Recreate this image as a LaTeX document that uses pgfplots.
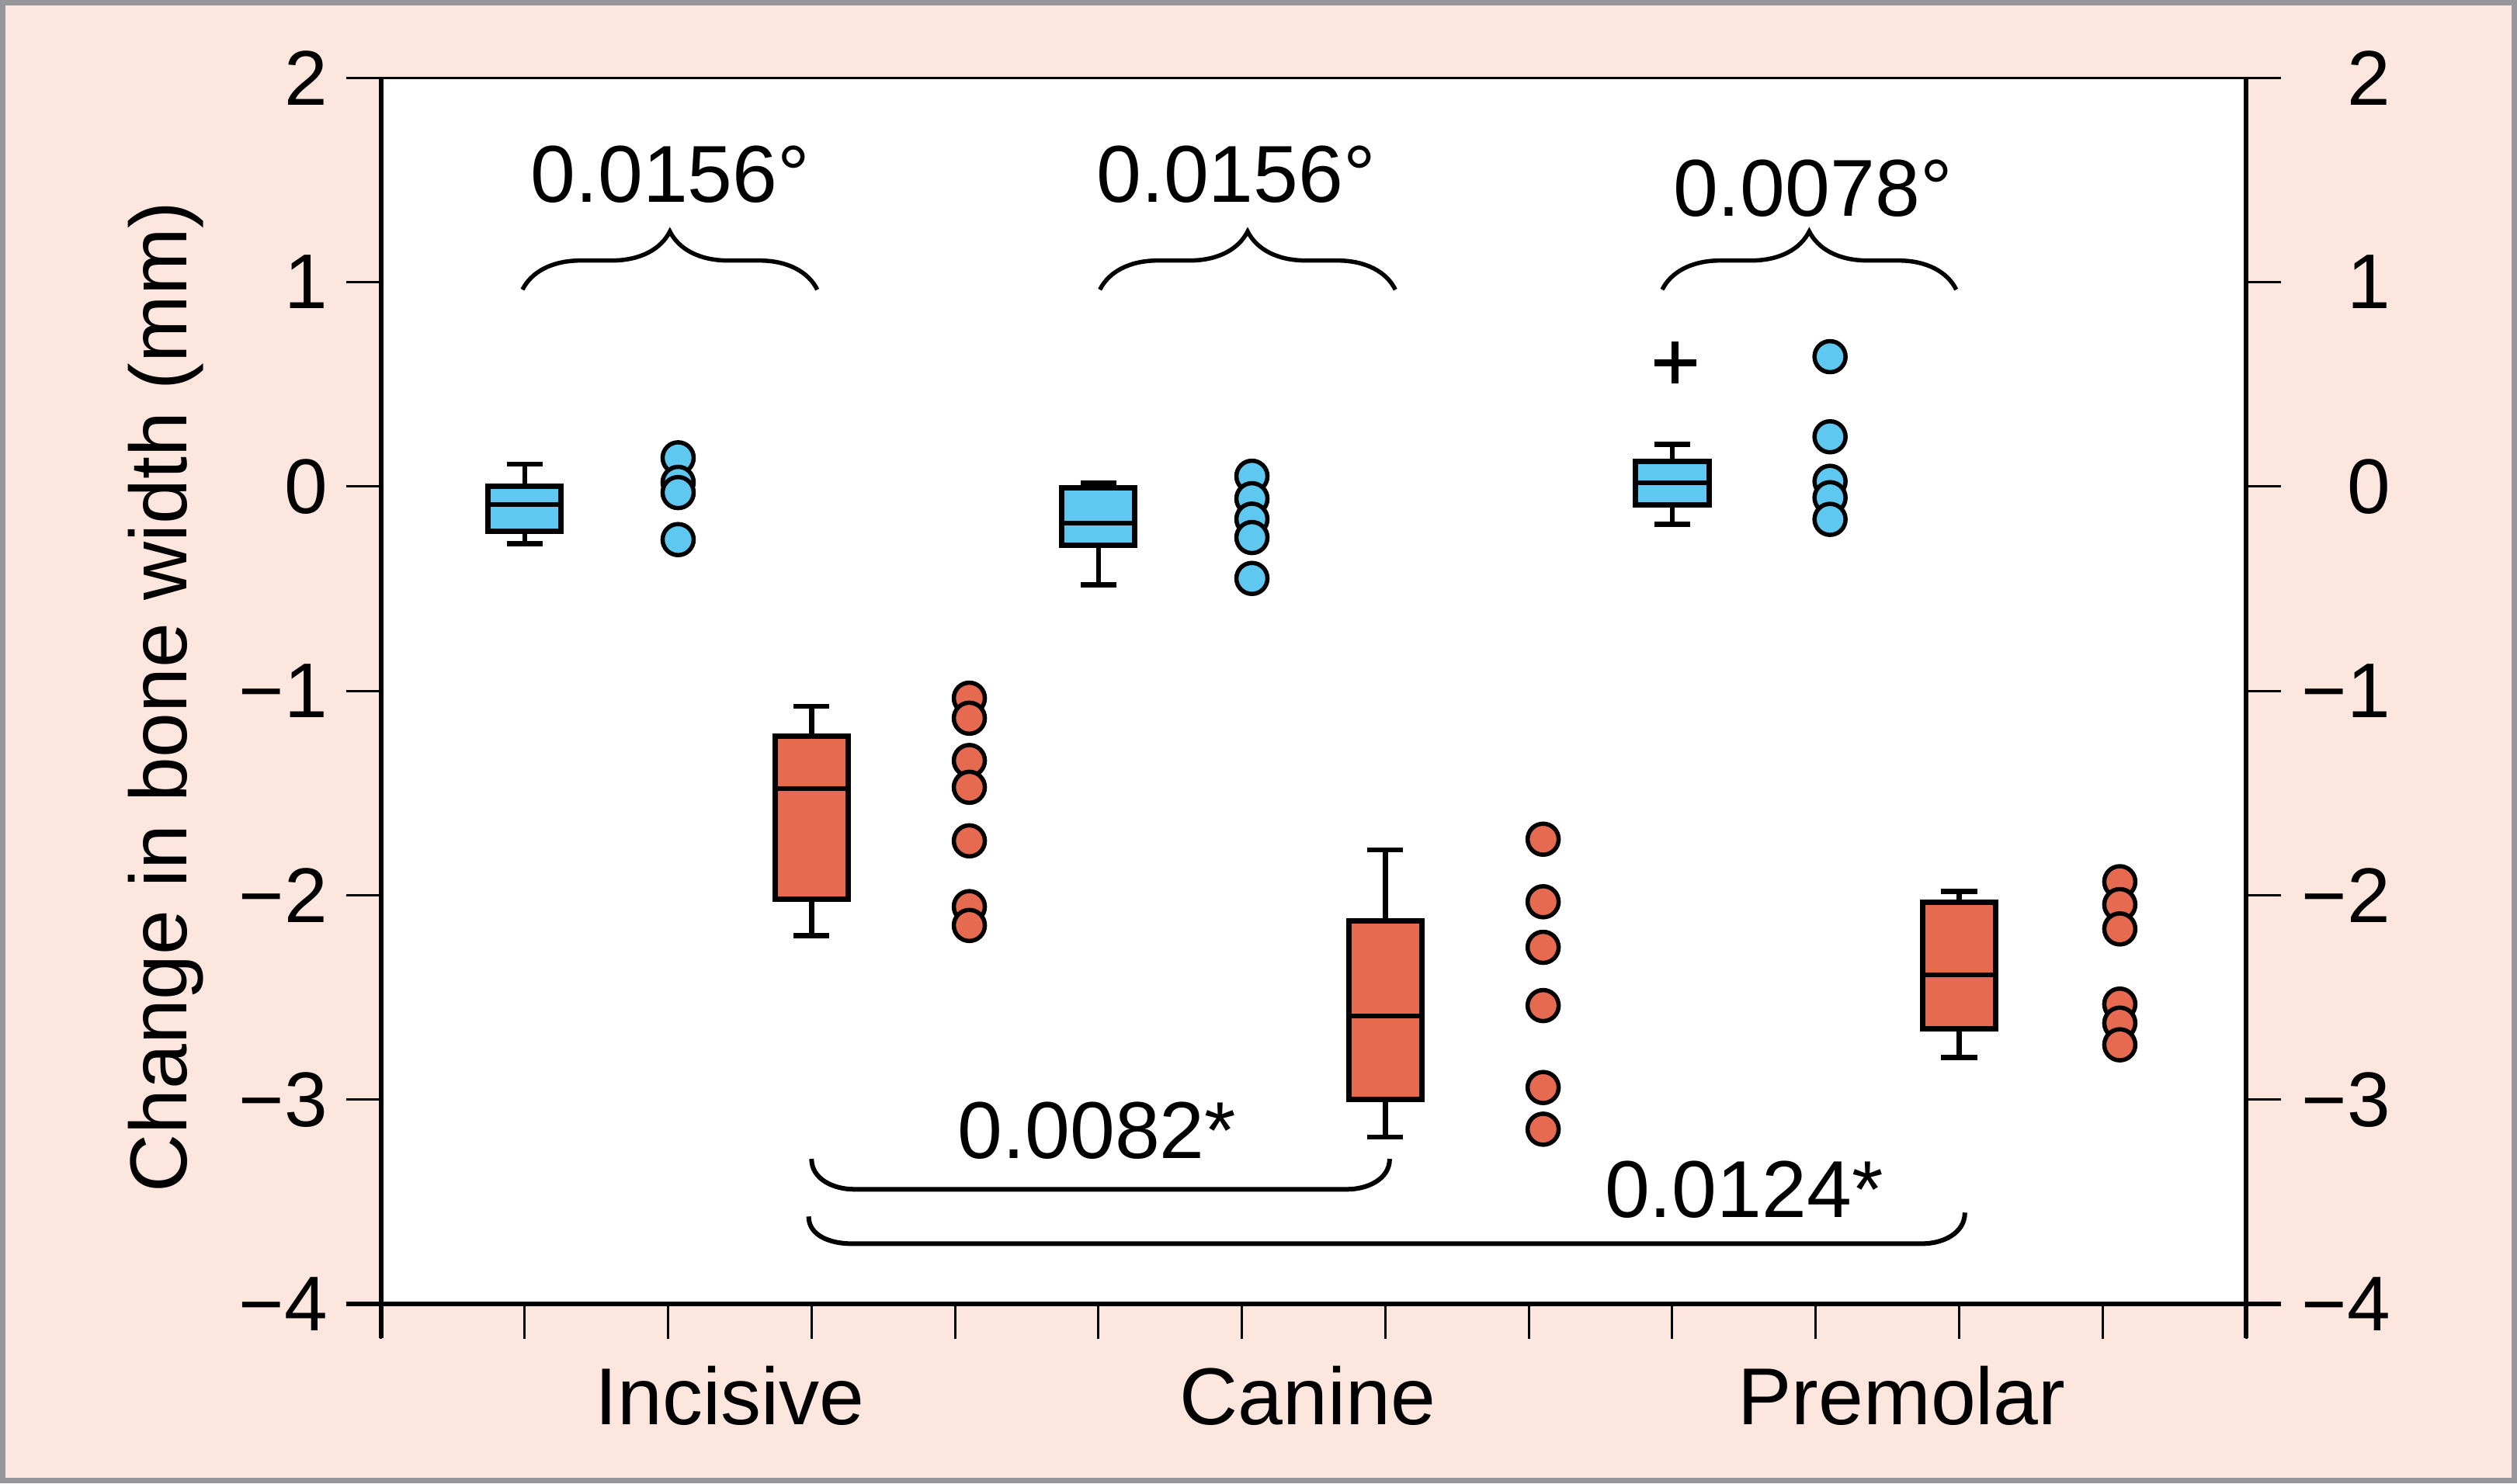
\documentclass[border=0pt]{standalone}
\usepackage{fontspec}
\setmainfont{Liberation Sans}
\usepackage{pgfplots}
\pgfplotsset{compat=1.18}
\usepgfplotslibrary{statistics}
\usetikzlibrary{decorations.pathreplacing}
\definecolor{cblue}{RGB}{94,200,240}
\definecolor{cred}{RGB}{230,106,80}
\definecolor{bgpink}{RGB}{252,230,222}
\definecolor{framegray}{RGB}{150,150,155}
\newcommand\annot{\fontsize{10.4pt}{12pt}\selectfont}
\newcommand\tickf{\fontsize{10pt}{12pt}\selectfont}
\begin{document}
\begin{tikzpicture}
\useasboundingbox (-49.1pt,-23.1pt) rectangle (275.1pt,168pt);
\fill[bgpink] (-49.1pt,-23.1pt) rectangle (275.1pt,168pt);
\draw[framegray, line width=0.7pt] (-48.75pt,-22.75pt) rectangle (274.75pt,167.65pt);
\begin{axis}[
  width=240.2pt, height=158pt, scale only axis,
  xmin=0, xmax=13, ymin=-4, ymax=2,
  xtick={0,1,2,3,4,5,6,7,8,9,10,11,12,13}, xticklabels={},
  xtick pos=left,
  ytick={-4,-3,-2,-1,0,1,2},
  yticklabels={},
  tick align=outside,
  major tick length=4.5pt,
  tick style={line width=0.3pt, black},
  axis line style={line width=0.3pt, black},
  axis background/.style={fill=white},
  boxplot/draw direction=y,
  boxplot/every box/.append style={line width=0.7pt},
  boxplot/every whisker/.append style={line width=0.65pt},
  boxplot/every median/.append style={line width=0.6pt},
  clip=false,
]
% ---- Incisive ----
\addplot[boxplot prepared={draw position=1, lower whisker=-0.28, lower quartile=-0.22, median=-0.09, upper quartile=0, upper whisker=0.11, box extend=0.51, whisker extend=0.25}, draw=black, fill=cblue, line width=0.65pt] coordinates {};
\addplot[only marks, mark=*, mark size=2.0pt, mark options={fill=cblue, draw=black, line width=0.55pt}] coordinates {(2.07,0.14) (2.07,0.02) (2.07,-0.03) (2.07,-0.26)};
\addplot[boxplot prepared={draw position=3, lower whisker=-2.197, lower quartile=-2.018, median=-1.479, upper quartile=-1.221, upper whisker=-1.076, box extend=0.51, whisker extend=0.25}, draw=black, fill=cred, line width=0.65pt] coordinates {};
\addplot[only marks, mark=*, mark size=2.0pt, mark options={fill=cred, draw=black, line width=0.55pt}] coordinates {(4.1,-1.036) (4.1,-1.134) (4.1,-1.341) (4.1,-1.472) (4.1,-1.734) (4.1,-2.056) (4.1,-2.148)};
% ---- Canine ----
\addplot[boxplot prepared={draw position=5, lower whisker=-0.482, lower quartile=-0.286, median=-0.18, upper quartile=-0.005, upper whisker=0.018, box extend=0.51, whisker extend=0.25}, draw=black, fill=cblue, line width=0.65pt] coordinates {};
\addplot[only marks, mark=*, mark size=2.0pt, mark options={fill=cblue, draw=black, line width=0.55pt}] coordinates {(6.07,0.05) (6.07,-0.06) (6.07,-0.16) (6.07,-0.25) (6.07,-0.45)};
\addplot[boxplot prepared={draw position=7, lower whisker=-3.184, lower quartile=-2.998, median=-2.592, upper quartile=-2.125, upper whisker=-1.779, box extend=0.51, whisker extend=0.25}, draw=black, fill=cred, line width=0.65pt] coordinates {};
\addplot[only marks, mark=*, mark size=2.0pt, mark options={fill=cred, draw=black, line width=0.55pt}] coordinates {(8.1,-1.726) (8.1,-2.032) (8.1,-2.255) (8.1,-2.540) (8.1,-2.941) (8.1,-3.145)};
% ---- Premolar ----
\addplot[boxplot prepared={draw position=9, lower whisker=-0.186, lower quartile=-0.089, median=0.019, upper quartile=0.124, upper whisker=0.206, box extend=0.51, whisker extend=0.25}, draw=black, fill=cblue, line width=0.65pt] coordinates {};
\addplot[only marks, mark=+, mark size=2.7pt, mark options={draw=black, line width=0.9pt}] coordinates {(9.02,0.606)};
\addplot[only marks, mark=*, mark size=2.0pt, mark options={fill=cblue, draw=black, line width=0.55pt}] coordinates {(10.1,0.635) (10.1,0.243) (10.1,0.025) (10.1,-0.055) (10.1,-0.161)};
\addplot[boxplot prepared={draw position=11, lower whisker=-2.794, lower quartile=-2.652, median=-2.389, upper quartile=-2.035, upper whisker=-1.981, box extend=0.51, whisker extend=0.25}, draw=black, fill=cred, line width=0.65pt] coordinates {};
\addplot[only marks, mark=*, mark size=2.0pt, mark options={fill=cred, draw=black, line width=0.55pt}] coordinates {(12.12,-1.934) (12.12,-2.046) (12.12,-2.165) (12.12,-2.533) (12.12,-2.626) (12.12,-2.732)};
% ---- thick axis lines ----
\draw[line width=0.65pt, black] ([yshift=-4.4pt]rel axis cs:0,0) -- (rel axis cs:0,1);
\draw[line width=0.65pt, black] ([yshift=-4.4pt]rel axis cs:1,0) -- (rel axis cs:1,1);
\draw[line width=0.6pt, black] ([xshift=-4.5pt]rel axis cs:0,0) -- ([xshift=4.5pt]rel axis cs:1,0);
% ---- left tick labels ----
\node[font=\tickf, anchor=east, inner sep=0pt] at ([xshift=-6.7pt]axis cs:0,2) {2};
\node[font=\tickf, anchor=east, inner sep=0pt] at ([xshift=-6.7pt]axis cs:0,1) {1};
\node[font=\tickf, anchor=east, inner sep=0pt] at ([xshift=-6.7pt]axis cs:0,0) {0};
\node[font=\tickf, anchor=east, inner sep=0pt] at ([xshift=-6.7pt]axis cs:0,-1) {−1};
\node[font=\tickf, anchor=east, inner sep=0pt] at ([xshift=-6.7pt]axis cs:0,-2) {−2};
\node[font=\tickf, anchor=east, inner sep=0pt] at ([xshift=-6.7pt]axis cs:0,-3) {−3};
\node[font=\tickf, anchor=east, inner sep=0pt] at ([xshift=-6.7pt]axis cs:0,-4) {−4};
% ---- right tick labels ----
\node[font=\tickf, anchor=east, inner sep=0pt] at ([xshift=18.8pt]axis cs:13,2) {2};
\node[font=\tickf, anchor=east, inner sep=0pt] at ([xshift=18.8pt]axis cs:13,1) {1};
\node[font=\tickf, anchor=east, inner sep=0pt] at ([xshift=18.8pt]axis cs:13,0) {0};
\node[font=\tickf, anchor=east, inner sep=0pt] at ([xshift=18.8pt]axis cs:13,-1) {−1};
\node[font=\tickf, anchor=east, inner sep=0pt] at ([xshift=18.8pt]axis cs:13,-2) {−2};
\node[font=\tickf, anchor=east, inner sep=0pt] at ([xshift=18.8pt]axis cs:13,-3) {−3};
\node[font=\tickf, anchor=east, inner sep=0pt] at ([xshift=18.8pt]axis cs:13,-4) {−4};
% ---- braces ----
\draw[line width=0.55pt, decorate, decoration={brace, amplitude=7.5pt}] (axis cs:0.985,0.963) -- (axis cs:3.04,0.963);
\draw[line width=0.55pt, decorate, decoration={brace, amplitude=7.5pt}] (axis cs:5.01,0.963) -- (axis cs:7.07,0.963);
\draw[line width=0.55pt, decorate, decoration={brace, amplitude=7.5pt}] (axis cs:8.93,0.963) -- (axis cs:10.98,0.963);
\draw[line width=0.6pt] (axis cs:3.0,-3.29) to[out=-90,in=180] ([xshift=5.5pt]axis cs:3.0,-3.439) -- ([xshift=-5.5pt]axis cs:7.03,-3.439) to[out=0,in=-90] (axis cs:7.03,-3.29);
\draw[line width=0.6pt] (axis cs:2.98,-3.572) to[out=-90,in=180] ([xshift=5.5pt]axis cs:2.98,-3.705) -- ([xshift=-5.5pt]axis cs:11.04,-3.705) to[out=0,in=-90] (axis cs:11.04,-3.553);
% ---- annotation texts ----
\node[font=\annot, anchor=base] at (axis cs:2.015,1.392) {0.0156°};
\node[font=\annot, anchor=base] at (axis cs:5.96,1.392) {0.0156°};
\node[font=\annot, anchor=base] at (axis cs:9.98,1.324) {0.0078°};
\node[font=\annot, anchor=base] at (axis cs:4.99,-3.287) {0.0082*};
\node[font=\annot, anchor=base] at (axis cs:9.50,-3.575) {0.0124*};
% ---- category labels ----
\node[font=\annot, anchor=base] at ([yshift=-15.5pt]axis cs:2.43,-4) {Incisive};
\node[font=\annot, anchor=base] at ([yshift=-15.5pt]axis cs:6.46,-4) {Canine};
\node[font=\annot, anchor=base] at ([yshift=-15.5pt]axis cs:10.6,-4) {Premolar};
% ---- y label ----
\node[font=\annot, anchor=base, rotate=90] at ([xshift=-25pt]axis cs:0,-1.03) {Change in bone width (mm)};
\end{axis}
\end{tikzpicture}
\end{document}
